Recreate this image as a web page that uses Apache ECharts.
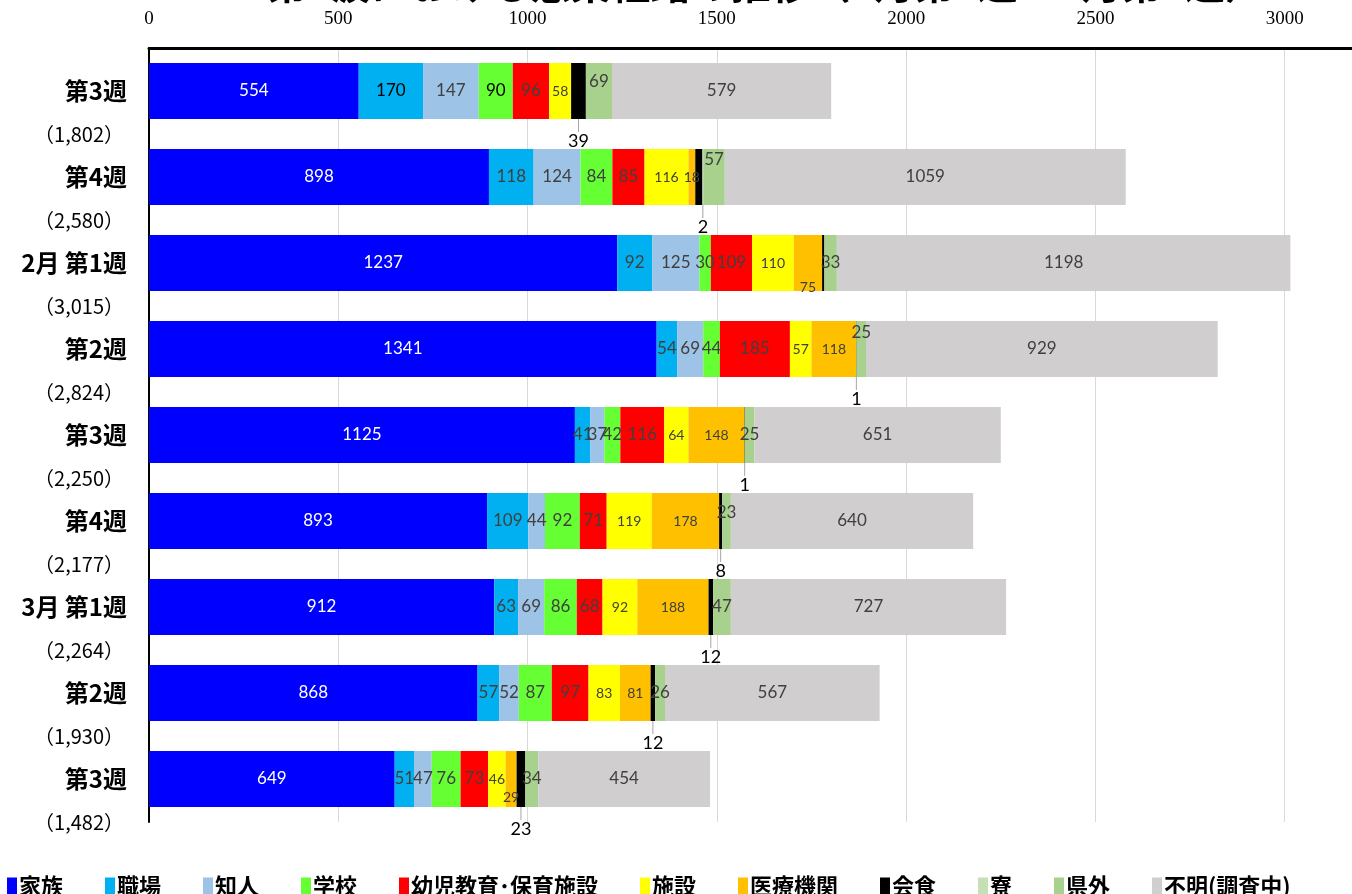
<!DOCTYPE html>
<html>
<head>
<meta charset="utf-8">
<title>感染経路の推移</title>
<script src="https://cdn.jsdelivr.net/npm/echarts@6/dist/echarts.min.js"></script>
<style>
  html, body { margin: 0; padding: 0; background: #fff; }
  #main { width: 1352px; height: 894px; }
</style>
</head>
<body>
<div id="main"></div>
<script type="text/javascript">
// 週ごとのカテゴリと合計
var categories = ['第3週', '第4週', '2月 第1週', '第2週', '第3週', '第4週', '3月 第1週', '第2週', '第3週'];
var totals = ['1,802', '2,580', '3,015', '2,824', '2,250', '2,177', '2,264', '1,930', '1,482'];
var xTicks = [0, 500, 1000, 1500, 2000, 2500, 3000];

// 感染経路別の人数
var kazoku   = [554, 898, 1237, 1341, 1125, 893, 912, 868, 649];
var shokuba  = [170, 118, 92, 54, 41, 109, 63, 57, 51];
var chijin   = [147, 124, 125, 69, 37, 44, 69, 52, 47];
var gakko    = [90, 84, 30, 44, 42, 92, 86, 87, 76];
var yoji     = [96, 85, 109, 185, 116, 71, 68, 97, 73];
var shisetsu = [58, 116, 110, 57, 64, 119, 92, 83, 46];
var iryo     = [0, 18, 75, 118, 148, 178, 188, 81, 29];
var kaishoku = [39, 19, 6, 1, 1, 8, 12, 12, 23];
var ryo      = [0, 2, 0, 0, 0, 0, 0, 0, 0];
var kengai   = [69, 57, 33, 25, 25, 23, 47, 26, 34];
var fumei    = [579, 1059, 1198, 929, 651, 640, 727, 567, 454];

var seriesDefs = [
  {name: '家族', data: kazoku, color: '#0000FF', label: '#FFFFFF'},
  {name: '職場', data: shokuba, color: '#00B0F0'},
  {name: '知人', data: chijin, color: '#9DC3E6'},
  {name: '学校', data: gakko, color: '#66FF33'},
  {name: '幼児教育･保育施設', data: yoji, color: '#FF0000'},
  {name: '施設', data: shisetsu, color: '#FFFF00', small: true},
  {name: '医療機関', data: iryo, color: '#FFC000', small: true},
  {name: '会食', data: kaishoku, color: '#000000', below: [0, 3, 4, 5, 6, 7, 8]},
  {name: '寮', data: ryo, color: '#C5E0B4', below: [1]},
  {name: '県外', data: kengai, color: '#A9D18E'},
  {name: '不明(調査中)', data: fumei, color: '#D0CECE'}
];

// ラベルの手動ずらし（Excel の元図に合わせる）
var labelShift = {
  '県外': {0: -9, 1: -17, 3: -16, 5: -8},
  '医療機関': {2: 24, 8: 18}
};
var darkLabels = {'職場': [0], '学校': [0]};

var series = seriesDefs.map(function (s) {
  var below = s.below;
  return {
    name: s.name,
    type: 'bar',
    stack: 'total',
    barWidth: 56,
    data: s.data.map(function (v, i) {
      var item = {value: v};
      if (!v || (below && below.indexOf(i) < 0)) {
        item.label = {show: false};
        item.labelLine = {show: false};
      } else if (darkLabels[s.name] && darkLabels[s.name].indexOf(i) >= 0) {
        item.label = {color: '#000'};
      }
      return item;
    }),
    itemStyle: {color: s.color},
    label: {
      show: true,
      position: 'inside',
      fontFamily: 'Lato',
      fontSize: s.small ? 14 : (below ? 18 : 17),
      color: s.label || (below ? '#000' : '#404040')
    },
    labelLine: below ? {show: true, lineStyle: {color: '#a6a6a6', width: 1}} : undefined,
    labelLayout: function (p) {
      if (below) {
        return below.indexOf(p.dataIndex) >= 0 ? {dy: 50} : {};
      }
      var sh = labelShift[s.name];
      if (sh && sh[p.dataIndex] !== undefined) return {dy: sh[p.dataIndex]};
      return {};
    }
  };
});

var myChart = echarts.init(document.getElementById('main'));
var option = {
  animation: false,
  title: {
    text: '第3波における感染経路の推移（1月第3週～3月第3週）',
    left: 262,
    top: -41,
    textStyle: {fontSize: 40, fontWeight: 'bold', fontFamily: 'Noto Sans CJK JP', color: '#000'}
  },
  legend: {
    left: 2,
    top: 870,
    icon: 'rect',
    itemWidth: 10,
    itemHeight: 17,
    itemGap: 42,
    textStyle: {fontSize: 22, fontWeight: 'bold', fontFamily: 'Noto Sans CJK JP', color: '#000', padding: [0, 0, 0, -3]},
    data: seriesDefs.map(function (s) { return s.name; })
  },
  grid: {left: 149, top: 48, width: 1325, height: 774, outerBoundsMode: 'none', containLabel: false},
  xAxis: {
    type: 'value',
    position: 'top',
    min: xTicks[0],
    max: 3500,
    interval: xTicks[1] - xTicks[0],
    axisLine: {show: true, lineStyle: {color: '#000', width: 3}},
    axisTick: {show: false},
    axisLabel: {
      margin: 19,
      fontFamily: 'Liberation Serif',
      fontSize: 19,
      color: '#000',
      formatter: function (v) { return xTicks.indexOf(v) >= 0 ? v : ''; }
    },
    splitLine: {show: true, lineStyle: {color: '#d9d9d9', width: 1}}
  },
  yAxis: {
    type: 'category',
    inverse: true,
    data: categories,
    axisLine: {show: true, lineStyle: {color: '#000', width: 2}},
    axisTick: {show: false},
    axisLabel: {
      interval: 0,
      showMinLabel: true,
      showMaxLabel: true,
      hideOverlap: false,
      margin: 22,
      align: 'right',
      formatter: function (v, i) {
        return '{s|}\n{a|' + v + '}\n{b|（' + totals[i] + '）}';
      },
      rich: {
        s: {lineHeight: 43, fontSize: 18},
        a: {lineHeight: 43, fontSize: 24, fontWeight: 'bold', fontFamily: 'Noto Sans CJK JP', color: '#000', align: 'right'},
        b: {lineHeight: 43, fontSize: 20, fontFamily: 'Noto Sans CJK JP', color: '#000', align: 'right', padding: [0, 3, 0, 0]}
      }
    }
  },
  series: series
};
myChart.setOption(option);
</script>
</body>
</html>
